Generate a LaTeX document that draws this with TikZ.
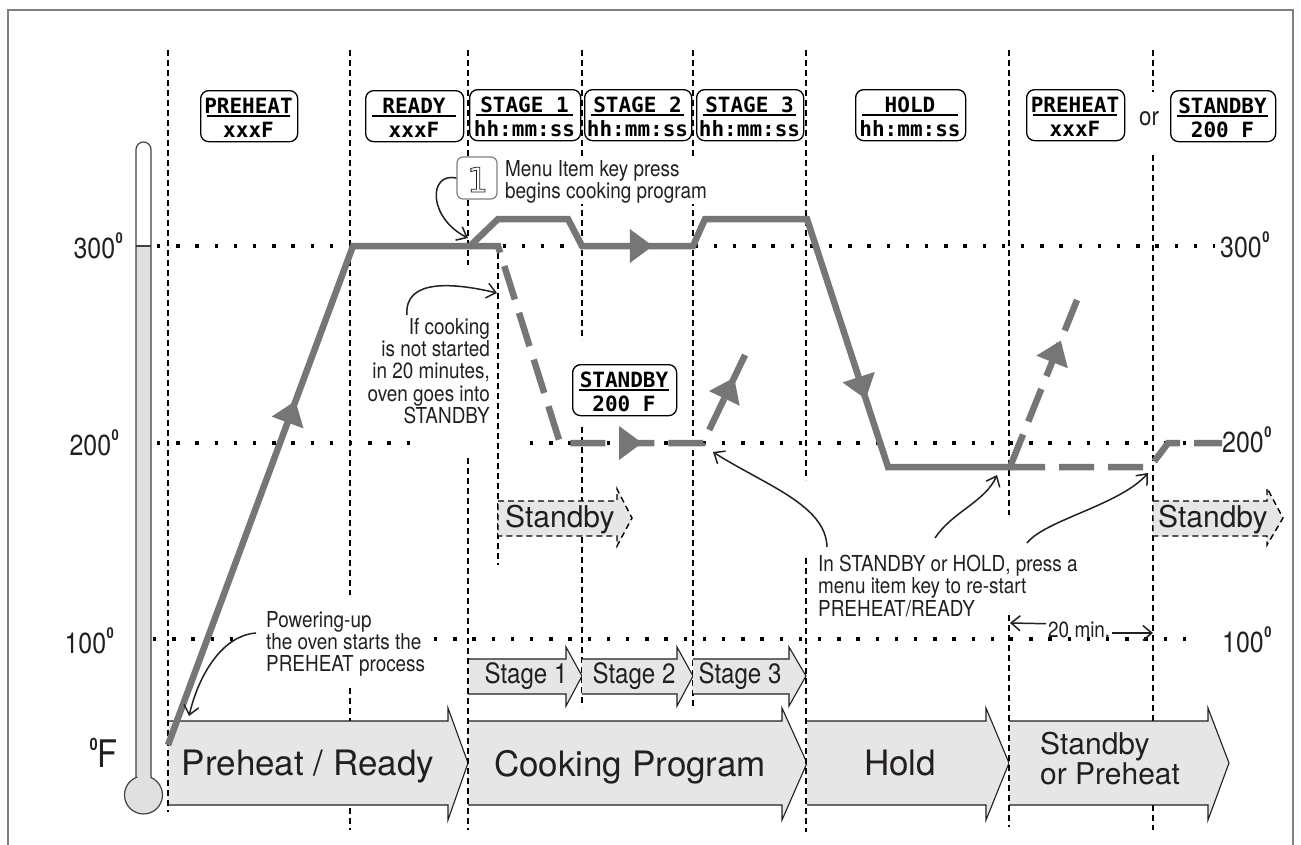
\documentclass[tikz,border=0pt]{standalone}
\usepackage{fontspec}
\setmainfont{TeX Gyre Heros}
\newfontfamily\cond[FakeStretch=0.86]{TeX Gyre Heros}
\newfontfamily\lcdfont{DejaVu Sans Mono}
\usetikzlibrary{arrows.meta,decorations.markings,calc}
\definecolor{curvegray}{HTML}{767676}
\definecolor{boxfill}{HTML}{E6E6E6}
\definecolor{thermofill}{HTML}{E0E0E0}
\definecolor{framegray}{HTML}{808080}
\definecolor{ink}{HTML}{231F20}
\newcommand\arrowtri{\fill[curvegray] (12pt,0pt) -- (-11pt,17pt) -- (-11pt,-17pt) -- cycle;}
\newcommand\superdeg{\kern0.5pt\raisebox{15pt}{\fontsize{15}{15}\selectfont\bfseries 0}}
\tikzset{
  vline/.style={draw=black, line width=1.5pt, dash pattern=on 6pt off 4pt},
  hdots/.style={draw=black, line width=3.4pt, dash pattern=on 3.4pt off 15.8pt},
  grayline/.style={draw=curvegray, line width=6.5pt},
  graydash/.style={grayline, dash pattern=on 35pt off 14pt},
  mkarrow/.style={decorate, decoration={markings, mark=at position #1 with {\arrowtri}}},
  bigedge/.style={draw=ink, line width=1.1pt},
  sbyarrow/.style={fill=boxfill, draw=black, line width=1.4pt, dash pattern=on 6pt off 4pt},
  lcdframe/.style={draw=black, line width=1.3pt, rounded corners=8pt, inner sep=0pt},
  lcdtxt/.style={font=\lcdfont\bfseries\fontsize{21}{21}\selectfont, inner sep=0pt},
  note/.style={font=\cond\fontsize{22}{22.3}\selectfont, text=ink, inner sep=0pt},
  axis/.style={font=\cond\fontsize{29}{29}\selectfont, text=ink, inner sep=0pt},
  bigtxt/.style={font=\fontsize{35}{35}\selectfont, text=ink, inner sep=0pt},
  stagetxt/.style={font=\cond\fontsize{28}{28}\selectfont, text=ink, inner sep=0pt},
  sbytxt/.style={font=\fontsize{30}{30}\selectfont, text=ink, inner sep=0pt},
  callout/.style={draw=ink, line width=1.5pt, -{Straight Barb[length=9pt,width=15pt]}},
}
\newcommand\blockarrow[8]{%
  \fill[boxfill] (#1,#4) -- (#2,#4) -- (#2,#6) -- (#3,#8) -- (#2,#7) -- (#2,#5) -- (#1,#5) -- cycle;
  \draw[bigedge] (#1,#5) -- (#2,#5) -- (#2,#7) -- (#3,#8) -- (#2,#6) -- (#2,#4) -- (#1,#4);}
\newcommand\sbyshape[8]{%
  \draw[sbyarrow] (#1,#4) -- (#2,#4) -- (#2,#6) -- (#3,#8) -- (#2,#7) -- (#2,#5) -- (#1,#5) -- cycle;}
\newcommand\lcd[6]{%
  \node[lcdframe, anchor=north west, minimum width={#3-#2}, minimum height=51] (#1) at (#2,#4) {};
  \draw[line width=1.2pt] ({#2+7},{#4+26}) -- ({#3-7},{#4+26});
  \node[lcdtxt, anchor=base] (#1-top) at ({(#2+#3)/2},{#4+23}) {#5};
  \node[lcdtxt, anchor=base] (#1-bot) at ({(#2+#3)/2},{#4+47}) {#6};}
\begin{document}
\begin{tikzpicture}[x=1pt,y=-1pt]
\useasboundingbox (0,0) rectangle (1301,844);
% frame
\draw[framegray, line width=1.5pt] (8,10) rectangle (1293,870);
% dotted temperature levels
\draw[hdots] (157,246) -- (1215,246);
\draw[hdots] (157,443) -- (425,443);
\draw[hdots] (530,443) -- (1200,443);
\draw[hdots] (153,639) -- (240,639);
\draw[hdots] (434,639) -- (1195,639);
% vertical lines (under arrows)
\draw[vline] (350,50) -- (350,595);
\draw[vline] (350,688) -- (350,830);
\draw[vline] (498,253) -- (498,565);
\draw[vline] (582,50) -- (582,340);
\draw[vline] (582,427) -- (582,707);
\draw[vline] (693,50) -- (693,707);
\draw[vline] (1153,50) -- (1153,92);
\draw[vline] (1153,155) -- (1153,830);
% thermometer
\fill[white] (136,777.5) -- (136,149.5) arc[start angle=180,end angle=360,radius=7.5] -- (151,777.5) arc[start angle=-66.75,end angle=246.75,radius=19] -- cycle;
\begin{scope}
\clip (100,246) rectangle (200,844);
\fill[thermofill] (136,777.5) -- (136,149.5) arc[start angle=180,end angle=360,radius=7.5] -- (151,777.5) arc[start angle=-66.75,end angle=246.75,radius=19] -- cycle;
\end{scope}
\draw[ink!85, line width=1.2pt] (136,777.5) -- (136,149.5) arc[start angle=180,end angle=360,radius=7.5] -- (151,777.5) arc[start angle=-66.75,end angle=246.75,radius=19] -- cycle;
\draw[ink!85, line width=1.2pt] (136,246) -- (151,246);
% block arrows
\blockarrow{168}{448}{468}{721}{805}{708}{820}{763}
\blockarrow{468}{782}{807}{721}{805}{708}{820}{763}
\blockarrow{807}{986}{1009}{721}{805}{708}{820}{763}
\blockarrow{1009}{1208}{1229}{721}{805}{708}{820}{763}
\blockarrow{468}{566}{582}{659}{694}{647}{706}{676}
\blockarrow{582}{677}{693}{659}{694}{647}{706}{676}
\blockarrow{693}{789}{806}{659}{694}{647}{706}{676}
\sbyshape{498}{617}{632}{501}{536}{489}{546}{518}
\sbyshape{1153}{1267}{1283}{501}{536}{488}{545}{518}
% vertical lines (over arrows)
\draw[vline] (168,50) -- (168,812);
\draw[vline] (468,50) -- (468,265);
\draw[vline] (468,458) -- (468,830);
\draw[vline] (806,50) -- (806,480);
\draw[vline] (806,558) -- (806,832);
\draw[vline] (1009,50) -- (1009,515);
\draw[vline] (1009,615) -- (1009,827);
% displays
\lcd{dPre}{200}{297}{90}{PREHEAT}{xxxF}
\lcd{dRdy}{365}{463}{90}{READY}{xxxF}
\lcd{dS1}{469}{580}{89}{STAGE 1}{hh:mm:ss}
\lcd{dS2}{584}{691}{89}{STAGE 2}{hh:mm:ss}
\lcd{dS3}{696}{803}{89}{STAGE 3}{hh:mm:ss}
\lcd{dHold}{855}{965}{89}{HOLD}{hh:mm:ss}
\lcd{dPre2}{1026}{1124}{89}{PREHEAT}{xxxF}
\lcd{dSby}{1170}{1275}{90}{STANDBY}{200 F}
\lcd{dSbyM}{572}{676}{364}{STANDBY}{200 F}
\node[font=\cond\fontsize{26}{26}\selectfont, text=ink, inner sep=0pt, anchor=base] (tor) at (1149,125) {or};
% temperature curve
\draw[grayline] (168,745) -- (353,246) -- (470,246) -- (498,219) -- (568,219) -- (582,246) -- (693,246) -- (705,219) -- (807,219) -- (888,467) -- (1010,467);
\draw[graydash] (470,246) -- (498,246) -- (560,443) -- (703,443) -- (745,355);
\draw[graydash] (1010,467) -- (1077,300);
\draw[graydash] (1010,467) -- (1150,467) -- (1168,443) -- (1222,443);
\path[mkarrow=0.667] (168,745) -- (353,246);
\path[mkarrow=0.53] (582,246) -- (693,246);
\path[mkarrow=0.68] (807,219) -- (888,467);
\path[mkarrow=0.49] (560,443) -- (703,443);
\path[mkarrow=0.62] (703,443) -- (745,355);
\path[mkarrow=0.69] (1010,467) -- (1077,300);
% axis labels
\node[axis, anchor=base east] (l300) at (123,258) {300\superdeg};
\node[axis, anchor=base east] (l200) at (119,455) {200\superdeg};
\node[axis, anchor=base east] (l100) at (114,653) {100\superdeg};
\node[axis, anchor=base east, font=\cond\fontsize{38}{38}\selectfont] (lF) at (118,767) {\raisebox{17pt}{\fontsize{17}{17}\selectfont\bfseries 0}F};
\node[axis, anchor=base west] (r300) at (1220,257) {300\superdeg};
\node[axis, anchor=base west] (r200) at (1222,452) {200\superdeg};
\node[axis, anchor=base west] (r100) at (1222,652) {100\superdeg};
% arrow labels
\node[bigtxt, anchor=base] (lblPR) at (308,775) {Preheat / Ready};
\node[bigtxt, anchor=base] (lblCP) at (630,776) {Cooking Program};
\node[bigtxt, anchor=base] (lblH) at (900,775) {Hold};
\node[sbytxt, anchor=base west] (lblS1) at (1040,754) {Standby};
\node[sbytxt, anchor=base west] (lblS2) at (1040,784) {or Preheat};
\node[stagetxt, anchor=base] (st1) at (526,683) {Stage 1};
\node[stagetxt, anchor=base] (st2) at (634,683) {Stage 2};
\node[stagetxt, anchor=base] (st3) at (740,683) {Stage 3};
\node[sbytxt, anchor=base west] (sbyM) at (505,527) {Standby};
\node[sbytxt, anchor=base west] (sbyR) at (1158,527) {Standby};
% badge
\node[draw=framegray, line width=1.2pt, rounded corners=6pt, fill=white, minimum width=40, minimum height=42, inner sep=0pt] (badge) at (477,178) {};
\node[font=\lcdfont\fontsize{34}{34}\selectfont, text=ink, inner sep=0pt, anchor=base] (one) at (477,192) {\special{pdf:literal direct 1 Tr 0.8 w}1\special{pdf:literal direct 0 Tr}};
% notes
\node[note, anchor=north west, align=left, fill=white, inner sep=1pt] (menu) at (504,159) {Menu Item key press\\begins cooking program};
\node[note, anchor=north east, align=right] (ifcook) at (490,318) {If cooking\\is not started\\in 20 minutes,\\oven goes into\\STANDBY};
\node[note, anchor=north west, align=left] (power) at (266,611) {Powering-up\\the oven starts the\\PREHEAT process};
\node[note, anchor=north west, align=left] (instb) at (818,555) {In STANDBY or HOLD, press a\\menu item key to re-start\\PREHEAT/READY};
\node[note, anchor=base west] (t20) at (1048,637) {20 min.};
% callout coordinates
\coordinate (cStart) at (468,238);
\coordinate (cSby) at (497,293);
\coordinate (cPow) at (189,716);
\coordinate (cJ1) at (713,452);
\coordinate (cJ2) at (997,475);
\coordinate (cJ3) at (1148,473);
\coordinate (c20L) at (1010,623);
\coordinate (c20R) at (1153,633);
\draw[callout] (badge.west) .. controls (428,172) and (428,218) .. (cStart);
\draw[callout] ($(ifcook.north east)+(-83,-3)$) .. controls (404,278) and (455,283) .. (cSby);
\draw[callout] ($(power.north west)+(-10,22)$) .. controls (225,635) and (200,670) .. (cPow);
\draw[callout] ($(instb.north west)+(9,-8)$) .. controls (826,505) and (765,485) .. (cJ1);
\draw[callout] ($(instb.north west)+(117,-17)$) .. controls (952,512) and (985,502) .. (cJ2);
\draw[callout] ($(instb.north west)+(209,-12)$) .. controls (1045,520) and (1120,505) .. (cJ3);
\draw[callout] ($(t20.north west)+(-2,2.5)$) -- (c20L);
\draw[callout] ($(t20.base east)+(2,-4)$) -- (c20R);
\end{tikzpicture}
\end{document}
